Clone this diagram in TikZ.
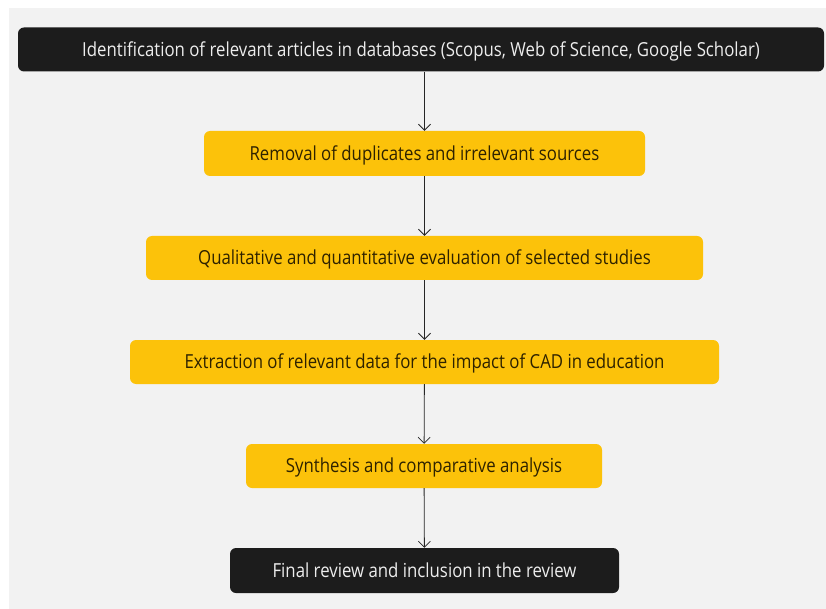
\documentclass[tikz,border=0pt]{standalone}
\usepackage{graphicx}
\usepackage{fontspec}
\setmainfont{Open Sans}
\usetikzlibrary{arrows.meta}
\definecolor{pagebg}{HTML}{F2F2F2}
\definecolor{darkbox}{HTML}{1C1C1C}
\definecolor{goldbox}{HTML}{FCC20A}
\definecolor{goldtext}{HTML}{2E2200}
\definecolor{lighttext}{HTML}{EDEDED}
% slightly tall lettering for the stage labels
\newcommand{\stagetext}[1]{\scalebox{1}[1.15]{#1}}
\tikzset{
  x=1pt, y=-1pt,
  stagebox/.style={rounded corners=6pt, inner sep=0pt,
    font=\fontsize{16.8}{19}\selectfont, text height=13.8pt, text depth=0pt},
  darkstage/.style={stagebox, fill=darkbox, text=lighttext},
  goldstage/.style={stagebox, fill=goldbox, text=goldtext},
  flow/.style={draw=black!85, line width=0.8pt, -{Straight Barb[length=6pt,width=12pt]}}
}
\begin{document}
\begin{tikzpicture}
  % page and grey canvas
  \fill[white] (0,0) rectangle (826,609);
  \fill[pagebg] (9,8) rectangle (826,609);
  \useasboundingbox (0,0) rectangle (826,609);

  % stages, top to bottom
  \node[darkstage, minimum width=806pt, minimum height=44pt] (s1) at (421,49.5)
    {\stagetext{Identification of relevant articles in databases (Scopus, Web of Science, Google Scholar)}};
  \node[goldstage, minimum width=441pt, minimum height=45pt] (s2) at (424.5,153.5)
    {\stagetext{Removal of duplicates and irrelevant sources}};
  \node[goldstage, minimum width=557pt, minimum height=44pt] (s3) at (424.5,258)
    {\stagetext{Qualitative and quantitative evaluation of selected studies}};
  \node[goldstage, minimum width=589pt, minimum height=44pt] (s4) at (424.5,362)
    {\stagetext{Extraction of relevant data for the impact of CAD in education}};
  \node[goldstage, minimum width=356pt, minimum height=44pt] (s5) at (424,466)
    {\stagetext{Synthesis and comparative analysis}};
  \node[darkstage, minimum width=389pt, minimum height=45pt] (s6) at (424.5,570.5)
    {\stagetext{Final review and inclusion in the review}};

  % connectors
  \draw[flow] (s1.south -| s2.north) -- (s2.north);
  \draw[flow] (s2) -- (s3);
  \draw[flow] (s3) -- (s4);
  \draw[flow] (s4) -- (s5);
  \draw[flow] (s5) -- (s6);
\end{tikzpicture}
\end{document}
